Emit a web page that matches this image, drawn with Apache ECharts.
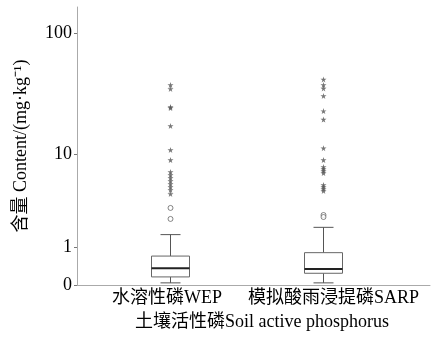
<!DOCTYPE html>
<html>
<head>
<meta charset="utf-8">
<script src="https://cdn.jsdelivr.net/npm/echarts@6/dist/echarts.min.js"></script>
<style>
  html, body { margin: 0; padding: 0; background: #fff; }
  #chart { width: 433px; height: 337px; }
</style>
</head>
<body>
<div id="chart"></div>
<script>
// categories
const categories = ['水溶性磷WEP', '模拟酸雨浸提磷SARP'];
// box stats: [min, Q1, median, Q3, max] in mg/kg
const wepBox = [0.04, 0.16, 0.36, 0.70, 1.52];
const sarpBox = [0.04, 0.24, 0.34, 0.81, 1.88];
// outliers (circles) and extremes (stars)
const wepOutliers = [3.11, 2.36];
const sarpOutliers = [2.61, 2.48];
const wepExtremes = [38.2, 35.5, 25.2, 24.7, 17.5, 10.9, 8.9, 6.95, 6.52, 6.12, 5.74, 5.38, 5.04, 4.71, 4.31];
const sarpExtremes = [42.4, 38.2, 35.8, 31.1, 23.3, 19.8, 11.3, 8.9, 7.71, 7.40, 7.10, 6.80, 5.26, 5.04, 4.82, 4.61];
const yTicks = [0, 1, 10, 100];
const yTop = 163;

// axis uses log10(v + 1)
const toAxis = v => Math.log10(v + 1);
const yMax = toAxis(yTop);

const font = 'Liberation Serif, Times New Roman, Noto Sans CJK SC, serif';
const boxData = [wepBox, sarpBox].map((b, i) => [i].concat(b.map(toAxis)));
const pts = (arrs) => arrs.flatMap((a, i) => a.map(v => [i, toAxis(v)]));
const starPath = 'path://M50,0 L61,35 L98,35 L68,57 L79,91 L50,70 L21,91 L32,57 L2,35 L39,35 Z';

let myChart = echarts.init(document.getElementById('chart'));
myChart.setOption({
  animation: false,
  grid: [
    {left: 77, right: 3, top: 7, bottom: 52},
    {left: 94, right: 33, top: 7, bottom: 52}
  ],
  xAxis: [
    {
      gridIndex: 0, type: 'value', min: 0, max: 1,
      axisLine: {lineStyle: {color: '#aaa'}},
      axisTick: {show: false}, axisLabel: {show: false}, splitLine: {show: false}
    },
    {
      gridIndex: 1, type: 'category', data: categories,
      axisLine: {show: false}, axisTick: {show: false},
      axisLabel: {
        interval: 0, hideOverlap: false, margin: 4,
        color: '#000', fontSize: 18, fontFamily: font,
        formatter: (v, i) => i === 1 ? '{s|' + v + '}' : '{w|' + v + '}',
        rich: {
          w: {fontSize: 18, fontFamily: font, color: '#000', padding: [0, 7, 0, 0]},
          s: {fontSize: 18, fontFamily: font, color: '#000', padding: [0, 0, 0, 20]}
        }
      },
      name: '土壤活性磷Soil active phosphorus',
      nameLocation: 'middle', nameGap: 28,
      nameTextStyle: {color: '#000', fontSize: 18, fontFamily: font, padding: [0, 0, 0, 30]}
    }
  ],
  yAxis: [
    {
      gridIndex: 0, type: 'value', min: 0, max: yMax,
      axisLine: {show: true, lineStyle: {color: '#aaa'}},
      axisTick: {show: true, length: 3, customValues: yTicks.map(toAxis), lineStyle: {color: '#777'}},
      axisLabel: {
        customValues: yTicks.map(toAxis), margin: 5, color: '#000', fontSize: 18, fontFamily: font,
        formatter: v => String(Math.round(Math.pow(10, v) - 1))
      },
      splitLine: {show: false},
      name: '含量 Content/(mg·kg⁻¹)',
      nameLocation: 'middle', nameGap: 47,
      nameTextStyle: {color: '#000', fontSize: 18, fontFamily: font}
    },
    {gridIndex: 1, type: 'value', min: 0, max: yMax, show: false}
  ],
  series: [
    {
      type: 'custom',
      xAxisIndex: 1, yAxisIndex: 1,
      data: boxData,
      encode: {x: 0, y: [1, 2, 3, 4, 5]},
      renderItem: function (params, api) {
        const c = api.value(0);
        const p = [1, 2, 3, 4, 5].map(k => api.coord([c, api.value(k)]));
        const x = p[0][0];
        const hw = 19, cw = 10;
        const ln = (x1, y1, x2, y2, color, w) => ({
          type: 'line', shape: {x1, y1, x2, y2},
          style: {stroke: color, lineWidth: w}
        });
        return {
          type: 'group',
          children: [
            ln(x, p[0][1], x, p[1][1], '#555', 1),
            ln(x, p[3][1], x, p[4][1], '#555', 1),
            ln(x - cw, p[0][1], x + cw, p[0][1], '#555', 1),
            ln(x - cw, p[4][1], x + cw, p[4][1], '#555', 1),
            {
              type: 'rect',
              shape: {x: x - hw, y: p[3][1], width: hw * 2, height: p[1][1] - p[3][1]},
              style: {fill: '#fff', stroke: '#666', lineWidth: 1}
            },
            ln(x - hw, p[2][1], x + hw, p[2][1], '#222', 2)
          ]
        };
      }
    },
    {
      type: 'scatter', xAxisIndex: 1, yAxisIndex: 1,
      symbol: 'circle', symbolSize: 5,
      itemStyle: {color: '#fff', borderColor: '#666', borderWidth: 1},
      data: pts([wepOutliers, sarpOutliers])
    },
    {
      type: 'scatter', xAxisIndex: 1, yAxisIndex: 1,
      symbol: starPath, symbolSize: 6,
      itemStyle: {color: '#555'},
      data: pts([wepExtremes, sarpExtremes])
    }
  ]
});
</script>
</body>
</html>
